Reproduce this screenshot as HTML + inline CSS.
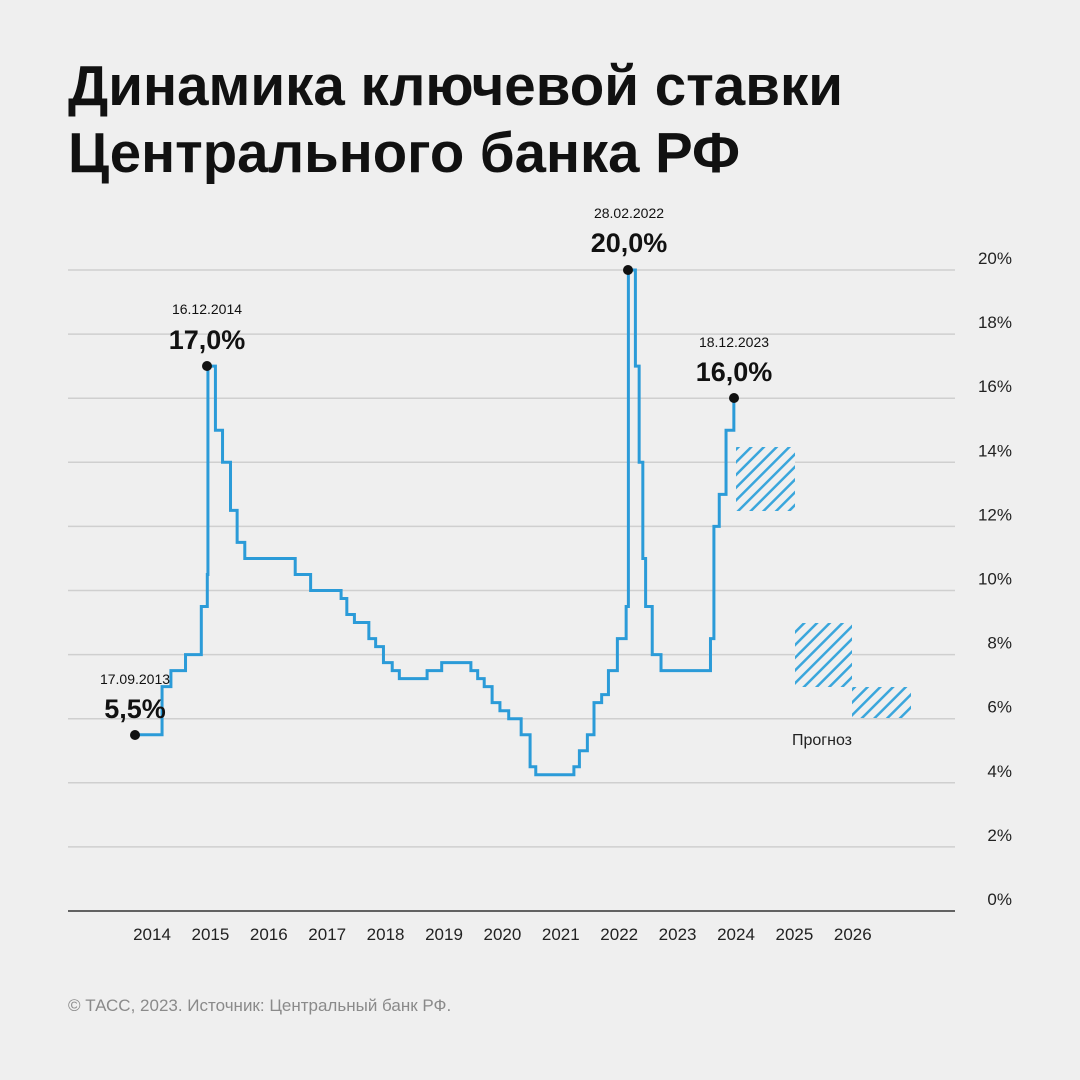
<!DOCTYPE html>
<html><head><meta charset="utf-8"><style>
html,body{margin:0;padding:0;background:#efefef;}
svg{display:block;font-family:"Liberation Sans","DejaVu Sans",sans-serif;}
</style></head><body>
<svg id="s" width="1080" height="1080" viewBox="0 0 1080 1080" xmlns="http://www.w3.org/2000/svg">
<defs>
<pattern id="h" patternUnits="userSpaceOnUse" width="9" height="9" patternTransform="rotate(45)">
<rect width="9" height="9" fill="#efefef"/>
<rect x="0" y="0" width="2.5" height="9" fill="#3aa6dc"/>
</pattern>
</defs>
<rect width="1080" height="1080" fill="#efefef"/>
<text x="68" y="105" font-size="57" font-weight="bold" fill="#111" textLength="775" lengthAdjust="spacingAndGlyphs">Динамика ключевой ставки</text>
<text x="68" y="172" font-size="57" font-weight="bold" fill="#111" textLength="672" lengthAdjust="spacingAndGlyphs">Центрального банка РФ</text>
<g id="grid" stroke="#cfcfcf" stroke-width="1.5"></g>
<g id="ylab" font-size="17" fill="#222" text-anchor="end"></g>
<line x1="68" y1="911" x2="955" y2="911" stroke="#333" stroke-width="1.5"/>
<g id="xlab" font-size="17" fill="#222" text-anchor="middle"></g>
<rect x="736" y="447" width="59" height="64" fill="url(#h)"/>
<rect x="795" y="623" width="57" height="64" fill="url(#h)"/>
<rect x="852" y="687" width="59" height="31" fill="url(#h)"/>
<text x="822" y="745" font-size="16" fill="#222" text-anchor="middle">Прогноз</text>
<path id="line" fill="none" stroke="#2b9bd8" stroke-width="3"/>
<g font-size="14" fill="#111" text-anchor="middle">
<text x="135" y="684">17.09.2013</text>
<text x="207" y="314">16.12.2014</text>
<text x="629" y="218">28.02.2022</text>
<text x="734" y="347">18.12.2023</text>
</g>
<g font-size="27" fill="#111" text-anchor="middle" font-weight="bold">
<text x="135" y="718">5,5%</text>
<text x="207" y="349">17,0%</text>
<text x="629" y="252">20,0%</text>
<text x="734" y="381">16,0%</text>
</g>
<g fill="#111">
<circle cx="135" cy="735" r="5"/>
<circle cx="207" cy="366" r="5"/>
<circle cx="628" cy="270" r="5"/>
<circle cx="734" cy="398" r="5"/>
</g>
<text x="68" y="1011" font-size="17" fill="#8a8a8a">© ТАСС, 2023. Источник: Центральный банк РФ.</text>
</svg>
<script>
const NS="http://www.w3.org/2000/svg";
const Y=v=>911-v*32.05, X=t=>152+(t-2014)*58.4;
const g=document.getElementById('grid'),yl=document.getElementById('ylab'),xl=document.getElementById('xlab');
for(let v=0;v<=20;v+=2){let l=document.createElementNS(NS,'line');l.setAttribute('x1',68);l.setAttribute('x2',955);l.setAttribute('y1',Y(v));l.setAttribute('y2',Y(v));if(v>0)g.appendChild(l);
let t=document.createElementNS(NS,'text');t.setAttribute('x',1012);t.setAttribute('y',Y(v)-6);t.textContent=v+'%';yl.appendChild(t);}
for(let y=2014;y<=2026;y++){let t=document.createElementNS(NS,'text');t.setAttribute('x',X(y));t.setAttribute('y',940);t.textContent=y;xl.appendChild(t);}
const d=[["2013-09-13",5.5],["2014-03-03",7],["2014-04-28",7.5],["2014-07-28",8],["2014-11-05",9.5],["2014-12-12",10.5],["2014-12-16",17],["2015-02-02",15],["2015-03-16",14],["2015-05-05",12.5],["2015-06-16",11.5],["2015-08-03",11],["2016-06-14",10.5],["2016-09-19",10],["2017-03-27",9.75],["2017-05-02",9.25],["2017-06-19",9],["2017-09-18",8.5],["2017-10-30",8.25],["2017-12-18",7.75],["2018-02-12",7.5],["2018-03-26",7.25],["2018-09-17",7.5],["2018-12-17",7.75],["2019-06-17",7.5],["2019-07-29",7.25],["2019-09-09",7],["2019-10-28",6.5],["2019-12-16",6.25],["2020-02-10",6],["2020-04-27",5.5],["2020-06-22",4.5],["2020-07-27",4.25],["2021-03-22",4.5],["2021-04-26",5],["2021-06-15",5.5],["2021-07-26",6.5],["2021-09-13",6.75],["2021-10-25",7.5],["2021-12-20",8.5],["2022-02-14",9.5],["2022-02-28",20],["2022-04-11",17],["2022-05-04",14],["2022-05-27",11],["2022-06-14",9.5],["2022-07-25",8],["2022-09-19",7.5],["2023-07-24",8.5],["2023-08-15",12],["2023-09-18",13],["2023-10-30",15],["2023-12-18",16]];
const tt=s=>{let[a,b,c]=s.split('-').map(Number);return a+(b-1)/12+(c-1)/365;};
let p="";
d.forEach(([s,v],i)=>{let x=X(tt(s));if(i==0)p+="M"+x+" "+Y(v);else p+=" H"+x+" V"+Y(v);});
document.getElementById('line').setAttribute('d',p);
</script>
</body></html>
